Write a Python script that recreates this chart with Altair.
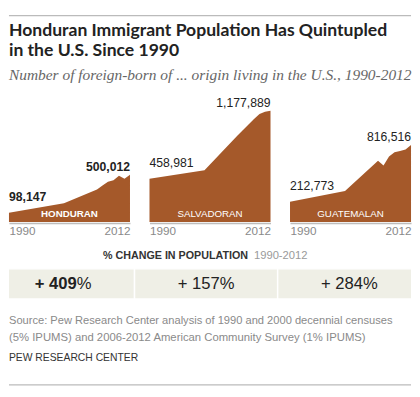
import altair as alt
import pandas as pd

# ---- data ----
years = [1990, 2000, 2006, 2007, 2008, 2009, 2010, 2011, 2012]
honduran = [98147, 197000, 345000, 386000, 427000, 441000, 490000, 459000, 500012]
salvadoran = [458981, 549000, 915000, 974000, 1033000, 1092000, 1143000, 1169000, 1177889]
guatemalan = [212773, 328000, 649000, 597000, 695000, 740000, 752000, 768000, 816516]
regions = ["HONDURAN", "SALVADORAN", "GUATEMALAN"]
pct_change = [409, 157, 284]

title_lines = ["Honduran Immigrant Population Has Quintupled", "in the U.S. Since 1990"]
subtitle = "Number of foreign-born of ... origin living in the U.S., 1990-2012"
header_bold = "% CHANGE IN POPULATION"
header_light = "1990-2012"
source_lines = [
    "Source: Pew Research Center analysis of 1990 and 2000 decennial censuses",
    "(5% IPUMS) and 2006-2012 American Community Survey (1% IPUMS)",
]
credit = "PEW RESEARCH CENTER"

# ---- styling ----
W, H = 124, 116
TOTAL_W = 412
BROWN = "#a5592a"
SANS = "Liberation Sans"
DARK = "#222222"
GAP = 48  # between panel baseline and table top


def text_chart(s):
    return alt.Chart(pd.DataFrame({"t": [s]}))


def panel(name, values, bold, first=False):
    df = pd.DataFrame({"year": years, "value": values})
    base = alt.Chart(df)
    x = alt.X(
        "year:Q",
        scale=alt.Scale(domain=[1990, 2012], nice=False, zero=False),
        axis=alt.Axis(
            values=[1990, 2012], format="d", title=None, labelFlush=True,
            ticks=False, grid=False, domainColor="#bdbdbd", domainWidth=1.5,
            labelColor="#8a8a8a", labelFontSize=12, labelFont=SANS,
            labelPadding=3, offset=1, zindex=1,
        ),
    )
    y = alt.Y("value:Q", scale=alt.Scale(domain=[0, 1200000], nice=False), axis=None)
    weight = "bold" if bold else "normal"
    area = base.mark_area(color=BROWN, opacity=1).encode(x=x, y=y)
    start = base.transform_filter(alt.datum.year == 1990).mark_text(
        align="left", baseline="alphabetic", dy=-12, fontSize=12.5,
        fontWeight=weight, font=SANS, color=DARK,
    ).encode(x=x, y=y, text=alt.Text("value:Q", format=","))
    end = base.transform_filter(alt.datum.year == 2012).mark_text(
        align="right", baseline="alphabetic", dy=-4, fontSize=12.5,
        fontWeight=weight, font=SANS, color=DARK,
    ).encode(x=x, y=y, text=alt.Text("value:Q", format=","))
    label = text_chart(name).mark_text(
        align="center", baseline="alphabetic", fontSize=10, fontWeight=weight,
        font=SANS, color="white",
    ).encode(x=alt.value(W / 2), y=alt.value(H - 5.5), text="t:N")
    layers = [area, start, end, label]
    if first:
        layers += [
            text_chart(title_lines[0]).mark_text(
                align="left", baseline="alphabetic", font="Lato", fontSize=18,
                fontWeight="bold", color=DARK,
            ).encode(x=alt.value(0), y=alt.value(-74.5), text="t:N"),
            text_chart(title_lines[1]).mark_text(
                align="left", baseline="alphabetic", font="Lato", fontSize=18,
                fontWeight="bold", color=DARK,
            ).encode(x=alt.value(0), y=alt.value(-54), text="t:N"),
            text_chart(subtitle).mark_text(
                align="left", baseline="alphabetic", font="Liberation Serif",
                fontSize=15.8, fontStyle="italic", color="#666666",
            ).encode(x=alt.value(0), y=alt.value(-29.5), text="t:N"),
        ]
    return alt.layer(*layers).properties(width=W, height=H)


row = alt.hconcat(
    panel(regions[0], honduran, True, first=True),
    panel(regions[1], salvadoran, False),
    panel(regions[2], guatemalan, False),
    spacing=20, bounds="flush",
)

tdf = pd.DataFrame({"region": regions, "pct": pct_change})
xband = alt.X(
    "region:N", sort=regions,
    scale=alt.Scale(range=[-18, 422], paddingInner=0, paddingOuter=0),
    axis=None,
)
tbase = alt.Chart(tdf).transform_calculate(label="'+ ' + datum.pct")
rect = tbase.mark_rect(color="#efefe6", stroke="white", strokeWidth=1.5, clip=True).encode(x=xband)
bold_txt = tbase.transform_filter(alt.datum.region == "HONDURAN").mark_text(
    align="right", baseline="alphabetic", dx=14, fontSize=17, fontWeight="bold",
    font=SANS, color=DARK,
).encode(x=xband, y=alt.value(21), text="label:N")
norm_txt = tbase.transform_filter(alt.datum.region != "HONDURAN").mark_text(
    align="right", baseline="alphabetic", dx=14, fontSize=17, font=SANS, color=DARK,
).encode(x=xband, y=alt.value(21), text="label:N")
pct_txt = tbase.mark_text(
    align="left", baseline="alphabetic", dx=14, fontSize=17, font=SANS, color=DARK,
).encode(x=xband, y=alt.value(21), text=alt.value("%"))

extras = [
    # top rule of the graphic (drawn from the table view, above the panels)
    text_chart("").mark_rule(color="#bbbbbb", strokeWidth=1.2).encode(
        x=alt.value(0), x2=alt.value(TOTAL_W), y=alt.value(-(H + GAP + 95.5))),
    text_chart(header_bold).mark_text(
        align="right", baseline="alphabetic", fontSize=11, fontWeight="bold",
        font=SANS, color="#333333",
    ).encode(x=alt.value(245), y=alt.value(-10.5), text="t:N"),
    text_chart(header_light).mark_text(
        align="left", baseline="alphabetic", fontSize=11.5, font=SANS, color="#9a9a9a",
    ).encode(x=alt.value(251), y=alt.value(-10.5), text="t:N"),
    text_chart(source_lines[0]).mark_text(
        align="left", baseline="alphabetic", fontSize=11.4, font=SANS, color="#8a8a8a",
    ).encode(x=alt.value(0), y=alt.value(57), text="t:N"),
    text_chart(source_lines[1]).mark_text(
        align="left", baseline="alphabetic", fontSize=11.6, font=SANS, color="#8a8a8a",
    ).encode(x=alt.value(0), y=alt.value(73.5), text="t:N"),
    text_chart(credit).mark_text(
        align="left", baseline="alphabetic", fontSize=10.6, font=SANS, color="#333333",
    ).encode(x=alt.value(0), y=alt.value(95), text="t:N"),
    text_chart("").mark_rule(color="#bbbbbb", strokeWidth=1.2).encode(
        x=alt.value(0), x2=alt.value(TOTAL_W), y=alt.value(119)),
]

table = alt.layer(rect, bold_txt, norm_txt, pct_txt, *extras).properties(
    width=TOTAL_W, height=31)

chart = alt.vconcat(row, table, spacing=H + GAP, bounds="flush").properties(
    padding={"top": 1.5, "left": 0, "right": 0, "bottom": 0}
).configure_view(stroke=None)

chart.save("out.html", embed_options={"renderer": "svg", "actions": False})
